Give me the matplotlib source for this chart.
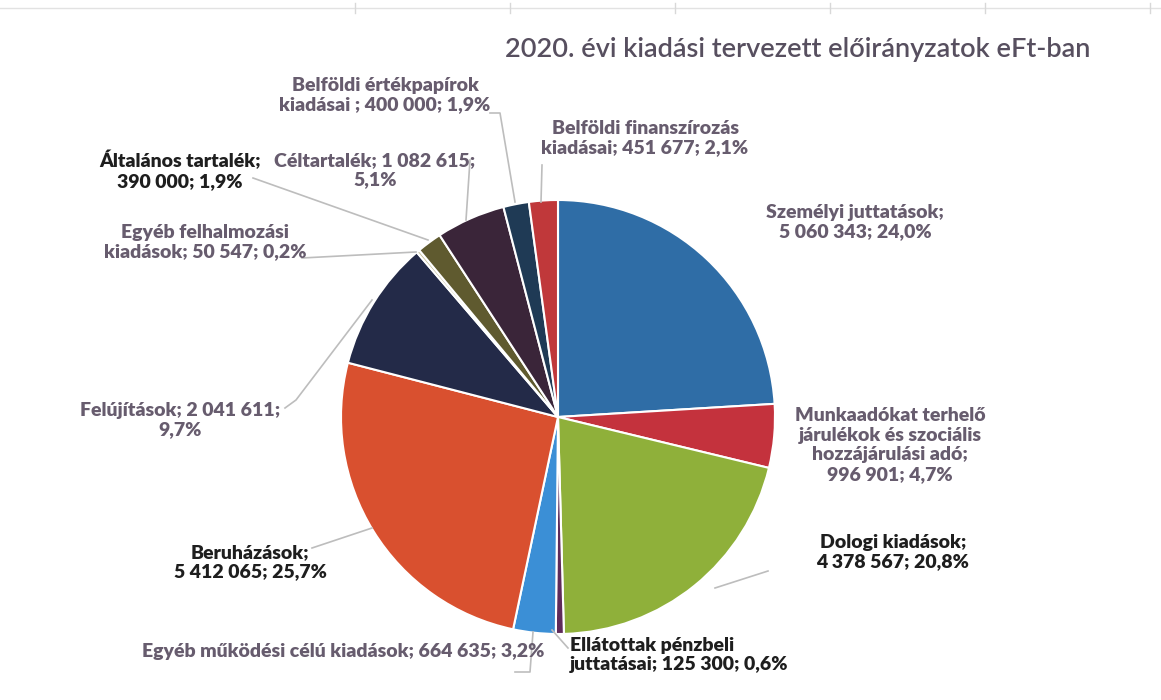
import numpy as np
import matplotlib.pyplot as plt

# --- ADATOK ---
kategoriak = [
    "Személyi juttatások",
    "Munkaadókat terhelő\njárulékok és szociális\nhozzájárulási adó",
    "Dologi kiadások",
    "Ellátottak pénzbeli\njuttatásai",
    "Egyéb működési célú kiadások",
    "Beruházások",
    "Felújítások",
    "Egyéb felhalmozási\nkiadások",
    "Általános tartalék",
    "Céltartalék",
    "Belföldi értékpapírok\nkiadásai ",
    "Belföldi finanszírozás\nkiadásai",
]
ertekek = [5060343, 996901, 4378567, 125300, 664635, 5412065,
           2041611, 50547, 390000, 1082615, 400000, 451677]
szinek = ["#2f6da6", "#c4323d", "#8fb03a", "#5e2a5a", "#3b8fd6", "#d9502f",
          "#232a48", "#c9c3a0", "#5f5a2f", "#3a2539", "#1f3a55", "#c0383a"]
cim = "2020. évi kiadási tervezett előirányzatok eFt-ban"

SZURKE = "#675c6e"
FEKETE = "#1e1e1e"

# címke elhelyezés (pixel, y lefelé): x, y, igazítás, szín, elválasztó, vezetővonal pontjai
cimke_hely = [
    (855, 222, "center", SZURKE, "\n", None),
    (890, 445, "center", SZURKE, "\n", None),
    (893, 552, "center", FEKETE, "\n", [(768, 571), (715, 588)]),
    (570, 655, "left", FEKETE, " ", [(568, 648), (552, 630)]),
    (343, 652, "center", SZURKE, " ", [(515, 672), (530, 672), (533, 632)]),
    (250, 562, "center", FEKETE, "\n", [(312, 548), (372, 528)]),
    (180, 420, "center", SZURKE, "\n", [(285, 408), (296, 400), (372, 300)]),
    (205, 242, "center", SZURKE, " ", [(302, 258), (416, 252)]),
    (180, 170, "center", FEKETE, "\n", [(253, 178), (428, 240)]),
    (375, 170, "center", SZURKE, "\n", [(470, 160), (466, 220)]),
    (385, 95, "center", SZURKE, " ", [(490, 113), (500, 113), (515, 202)]),
    (645, 138, "center", SZURKE, " ", [(542, 165), (541, 202)]),
]

W, H = 1161, 700
osszeg = sum(ertekek)

plt.rcParams["font.family"] = ["Lato", "DejaVu Sans"]

fig = plt.figure(figsize=(W / 100, H / 100), dpi=100)
ax = fig.add_axes([0, 0, 1, 1])

ax.pie(ertekek, colors=szinek, startangle=90, counterclock=False,
       center=(558, H - 417), radius=217, frame=True,
       wedgeprops=dict(edgecolor="white", linewidth=1.5))
ax.set_xlim(0, W)
ax.set_ylim(0, H)
ax.set_aspect("equal")
ax.set_axis_off()

# halvány vonal a szkennelt lap tetején
ax.plot([0, W], [H - 8, H - 8], color="#e2e2e2", lw=1)
for tx in [355, 510, 675, 830, 985, 1150]:
    ax.plot([tx, tx], [H - 3, H - 13], color="#d8d8d8", lw=1)

ax.text(798, H - 50, cim, ha="center", va="center", fontsize=19.5,
        color="#574f5f", fontweight="semibold")

for kat, v, (x, y, ha, szin, sep, vonal) in zip(kategoriak, ertekek, cimke_hely):
    szam = f"{v:,}".replace(",", " ")
    szazalek = f"{v / osszeg * 100:.1f}".replace(".", ",")
    szoveg = f"{kat};{sep}{szam}; {szazalek}%"
    if kat.startswith("Munkaadókat") or kat.startswith("Általános"):
        szoveg = f"{kat};\n{szam}; {szazalek}%"
    if kat.startswith("Felújítások") or kat.startswith("Céltartalék"):
        szoveg = f"{kat}; {szam};\n{szazalek}%"
    ax.text(x, H - y, szoveg, ha=ha, va="center", multialignment=ha,
            fontsize=14, fontweight="heavy", color=szin, linespacing=1.2)
    if vonal:
        xs = [p[0] for p in vonal]
        ys = [H - p[1] for p in vonal]
        ax.plot(xs, ys, color="#bdbdbd", lw=1.2)

fig.savefig("out.png", dpi=100)
plt.close(fig)
